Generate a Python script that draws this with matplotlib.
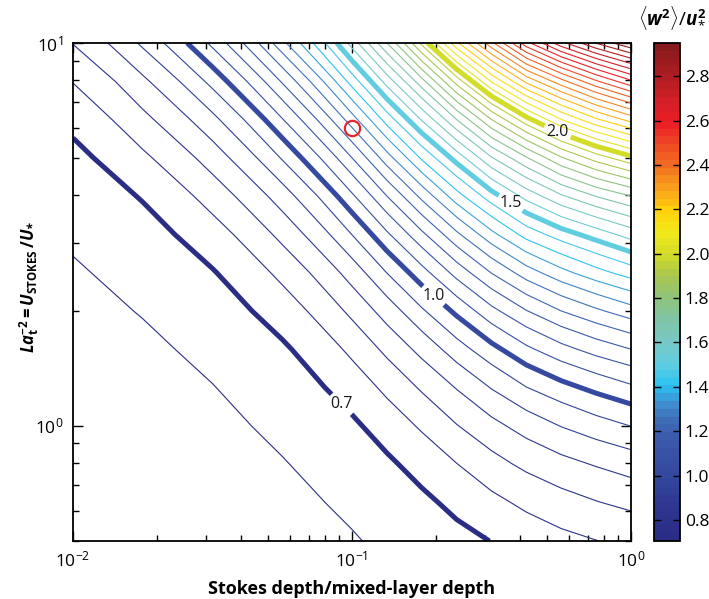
import numpy as np
import matplotlib
matplotlib.use("Agg")
import matplotlib.pyplot as plt
from matplotlib.colors import LinearSegmentedColormap, Normalize
from matplotlib.cm import ScalarMappable
from matplotlib.ticker import FormatStrFormatter

plt.rcParams.update({
    "font.family": ["Open Sans", "DejaVu Sans"],
    "mathtext.fontset": "custom",
    "mathtext.rm": "Open Sans",
    "mathtext.it": "Open Sans:italic",
    "mathtext.bf": "Open Sans:bold",
    "mathtext.bfit": "Open Sans:italic:bold",
    "mathtext.sf": "Open Sans",
})

# ---- data ----
# x: Stokes depth / mixed-layer depth (grid columns)
stokes_ratio = [0.01, 0.01778, 0.03162, 0.05623, 0.1, 0.1334, 0.1778, 0.2371, 0.3162, 0.4217, 0.5623, 0.7499, 1.0]
# y: La_t^-2 = U_stokes / u* (grid rows)
la_t_inv2 = [0.5, 0.631, 0.794, 1.0, 1.259, 1.585, 1.995, 2.512, 3.162, 3.981, 5.012, 6.31, 7.943, 10.0]
# <w^2>/u*^2 at each (row, column)
w2_u2 = [
    [0.623, 0.625, 0.628, 0.635, 0.647, 0.658, 0.670, 0.686, 0.701, 0.722, 0.737, 0.749, 0.761],
    [0.624, 0.627, 0.631, 0.640, 0.658, 0.672, 0.690, 0.713, 0.738, 0.761, 0.782, 0.798, 0.813],
    [0.625, 0.629, 0.635, 0.648, 0.672, 0.692, 0.719, 0.749, 0.783, 0.812, 0.835, 0.854, 0.873],
    [0.627, 0.632, 0.641, 0.659, 0.692, 0.723, 0.757, 0.798, 0.836, 0.871, 0.902, 0.929, 0.951],
    [0.630, 0.637, 0.649, 0.673, 0.723, 0.762, 0.807, 0.853, 0.903, 0.949, 0.984, 1.014, 1.042],
    [0.634, 0.643, 0.660, 0.693, 0.762, 0.813, 0.866, 0.928, 0.985, 1.040, 1.084, 1.120, 1.150],
    [0.639, 0.652, 0.676, 0.724, 0.813, 0.873, 0.943, 1.012, 1.086, 1.148, 1.200, 1.241, 1.279],
    [0.646, 0.664, 0.697, 0.764, 0.873, 0.951, 1.031, 1.119, 1.202, 1.276, 1.334, 1.382, 1.423],
    [0.656, 0.681, 0.729, 0.815, 0.951, 1.042, 1.139, 1.240, 1.336, 1.420, 1.476, 1.523, 1.571],
    [0.669, 0.704, 0.772, 0.876, 1.042, 1.150, 1.264, 1.380, 1.479, 1.568, 1.643, 1.702, 1.750],
    [0.687, 0.741, 0.824, 0.955, 1.150, 1.279, 1.408, 1.521, 1.646, 1.746, 1.845, 1.924, 1.988],
    [0.714, 0.787, 0.887, 1.047, 1.279, 1.423, 1.554, 1.700, 1.850, 1.983, 2.099, 2.192, 2.269],
    [0.752, 0.840, 0.967, 1.156, 1.423, 1.571, 1.732, 1.921, 2.105, 2.263, 2.382, 2.493, 2.590],
    [0.802, 0.910, 1.063, 1.286, 1.571, 1.750, 1.964, 2.189, 2.387, 2.583, 2.734, 2.853, 2.950],
]
contour_levels = [round(0.65 + 0.05 * i, 2) for i in range(46)]   # 0.65 ... 2.90
labelled_levels = [0.7, 1.0, 1.5, 2.0]
label_text_pos = [(0.092, 1.14), (0.195, 2.18), (0.371, 3.82), (0.547, 5.89)]
typical_point = (0.1, 6.0)
cbar_ticks = [0.8, 1.0, 1.2, 1.4, 1.6, 1.8, 2.0, 2.2, 2.4, 2.6, 2.8]
cbar_range = (0.705, 2.95)

# ---- colour map (reference colour bar) ----
cpos = [0.705, 0.85, 1.0, 1.15, 1.25, 1.32, 1.40, 1.50, 1.60, 1.70, 1.80, 1.90, 2.00, 2.10, 2.20,
        2.30, 2.40, 2.50, 2.60, 2.70, 2.80, 2.95]
ccol = ["#2a2d84", "#2e3790", "#344a9f", "#3a58a9", "#3f6fb8", "#3f8fd0", "#2ac3f1", "#62cde0",
        "#78c9c6", "#80c4a6", "#90c47c", "#a9c64e", "#d3dc28", "#f2e91a", "#fed20a", "#f8a01c",
        "#f37021", "#ef4a24", "#ec1e26", "#d41f26", "#b31d23", "#861a1b"]
vmin, vmax = cbar_range
cmap = LinearSegmentedColormap.from_list(
    "w2", [((p - vmin) / (vmax - vmin), c) for p, c in zip(cpos, ccol)], N=256)
norm = Normalize(vmin, vmax)

# contour in log10 coordinates, on a log-stretched value, so the coarse grid
# is interpolated smoothly (the drawn level curves are those of w2_u2)
LX = np.log10(stokes_ratio)
LY = np.log10(la_t_inv2)
OFF = 0.61
T = np.log(np.array(w2_u2) - OFF)


def tlev(vals):
    return [float(np.log(v - OFF)) for v in vals]


thin = [l for l in contour_levels if l not in labelled_levels]

W, H = 709, 599
fig = plt.figure(figsize=(W / 100, H / 100), dpi=100)
ax = fig.add_axes([73 / W, 1 - 541 / H, 558 / W, 498 / H])
cax = fig.add_axes([654 / W, 1 - 541 / H, 26 / W, 498 / H])

ax.contour(LX, LY, T, levels=tlev(thin), colors=[cmap(norm(l)) for l in thin], linewidths=0.8)
cs = ax.contour(LX, LY, T, levels=tlev(labelled_levels),
                colors=[cmap(norm(l)) for l in labelled_levels], linewidths=3.6)
fmt = {t: "%.1f" % v for t, v in zip(cs.levels, labelled_levels)}
lab = ax.clabel(cs, fmt=fmt,
                manual=[(np.log10(a), np.log10(b)) for a, b in label_text_pos],
                inline=True, inline_spacing=3, fontsize=11.5, colors="#1a1a1a")
for t in lab:
    t.set_rotation(0)
ax.plot([np.log10(typical_point[0])], [np.log10(typical_point[1])], "o",
        mfc="none", mec="#e8262a", ms=11, mew=1.6)

ax.set_xlim(-2, 0)
ax.set_ylim(np.log10(0.5), 1)
ax.set_xticks([-2, -1, 0], [r"$\mathdefault{10^{-2}}$", r"$\mathdefault{10^{-1}}$", r"$\mathdefault{10^{0}}$"])
ax.set_yticks([0, 1], [r"$\mathdefault{10^{0}}$", r"$\mathdefault{10^{1}}$"])
ax.set_xticks([np.log10(k * 10.0 ** n) for n in (-2, -1) for k in range(2, 10)], minor=True)
ax.set_yticks([np.log10(k * 0.1) for k in range(5, 10)] + [np.log10(k) for k in range(2, 10)], minor=True)
ax.tick_params(which="both", direction="in", top=True, right=True, labelsize=12.5, width=1)
ax.tick_params(which="major", length=7, pad=7)
ax.tick_params(which="minor", length=4)
for s in ax.spines.values():
    s.set_linewidth(1.3)
ax.set_xlabel("Stokes depth/mixed-layer depth", fontsize=13, fontweight="bold", labelpad=7)
fig.text(29 / W, 1 - 287 / H,
         r"$\mathbfit{La}_{\mathbf{t}}^{\mathbf{-2}}\mathbf{=}\mathbfit{U}_{\mathbf{STOKES}}\,\mathbf{/}\mathbfit{U}_{\mathbfit{*}}$",
         fontsize=12, rotation=90, rotation_mode="anchor", ha="center", va="center")

cb = fig.colorbar(ScalarMappable(norm=norm, cmap=cmap.resampled(64)), cax=cax)
cb.set_ticks(cbar_ticks)
cb.ax.yaxis.set_major_formatter(FormatStrFormatter("%.1f"))
cax.tick_params(direction="in", left=True, right=True, length=5, labelsize=12.5, width=1)
cb.outline.set_linewidth(1.3)
fig.text(706 / W, 1 - 18 / H, r"$\langle\mathbfit{w}^{\mathbf{2}}\rangle/\mathbfit{u}_{*}^{\mathbf{2}}$",
         ha="right", va="center", fontsize=13.5)

fig.savefig("out.png", dpi=100)
